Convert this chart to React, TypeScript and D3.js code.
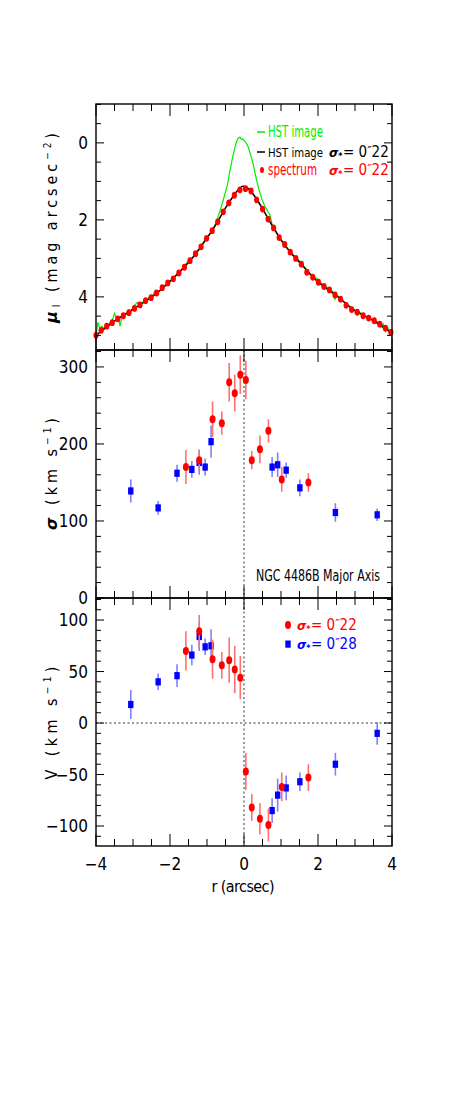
import React from 'react';
import * as d3 from 'd3';

const FONT = "'Liberation Sans Narrow', 'DejaVu Sans Condensed', sans-serif";
const GREEK = "'DejaVu Sans', sans-serif";

// top panel: major-axis surface brightness, [r arcsec, mu_I]
const hstRaw: [number, number][] = [
  [-4.0, 5.02], [-3.95, 4.66], [-3.9, 4.82], [-3.84, 4.76], [-3.78, 4.83], [-3.72, 4.74],
  [-3.66, 4.72], [-3.6, 4.64], [-3.55, 4.58], [-3.5, 4.43], [-3.45, 4.55], [-3.4, 4.52],
  [-3.35, 4.76], [-3.3, 4.52], [-3.24, 4.47], [-3.18, 4.46], [-3.12, 4.34], [-3.06, 4.42],
  [-3.0, 4.25], [-2.94, 4.2], [-2.88, 4.14], [-2.82, 4.24], [-2.76, 4.16], [-2.7, 4.1],
  [-2.62, 4.06], [-2.55, 4.0], [-2.48, 3.98], [-2.4, 3.84], [-2.34, 3.9], [-2.26, 3.82],
  [-2.18, 3.7], [-2.1, 3.7], [-2.02, 3.6], [-1.94, 3.54], [-1.86, 3.46], [-1.78, 3.38],
  [-1.7, 3.3], [-1.62, 3.22], [-1.54, 3.1], [-1.46, 3.0], [-1.38, 2.97], [-1.3, 2.86],
  [-1.22, 2.78], [-1.14, 2.65], [-1.06, 2.52], [-0.98, 2.44], [-0.92, 2.38], [-0.86, 2.28],
  [-0.8, 2.15], [-0.74, 2.02], [-0.68, 1.86], [-0.6, 1.62], [-0.52, 1.34], [-0.45, 1.1],
  [-0.38, 0.72], [-0.3, 0.34], [-0.22, 0.02], [-0.16, -0.12], [-0.11, -0.15], [-0.07, -0.09],
  [-0.03, -0.1], [0.02, -0.04], [0.07, 0.02], [0.12, 0.12], [0.18, 0.32], [0.25, 0.55],
  [0.32, 0.88], [0.4, 1.2], [0.48, 1.45], [0.56, 1.64], [0.64, 1.78], [0.7, 1.86],
  [0.76, 2.12], [0.84, 2.26], [0.92, 2.4], [1.0, 2.52], [1.1, 2.64], [1.2, 2.76],
  [1.3, 2.88], [1.4, 2.98], [1.5, 3.06], [1.6, 3.18], [1.7, 3.3], [1.8, 3.42],
  [1.9, 3.48], [2.0, 3.54], [2.1, 3.66], [2.2, 3.72], [2.3, 3.8], [2.4, 3.86],
  [2.46, 4.06], [2.52, 3.96], [2.6, 4.02], [2.7, 4.12], [2.8, 4.22], [2.9, 4.26],
  [3.0, 4.36], [3.1, 4.38], [3.2, 4.46], [3.3, 4.52], [3.4, 4.56], [3.5, 4.62],
  [3.6, 4.64], [3.7, 4.8], [3.76, 4.7], [3.82, 4.9], [3.88, 4.78], [3.94, 4.96], [4.0, 5.04],
];

const hstSmooth: [number, number][] = [
  [-4, 5.0], [-3.5, 4.63], [-3, 4.32], [-2.5, 4.01], [-2, 3.6], [-1.5, 3.11], [-1.25, 2.81],
  [-1, 2.47], [-0.75, 2.11], [-0.5, 1.69], [-0.3, 1.4], [-0.15, 1.21], [-0.05, 1.13],
  [0.05, 1.14], [0.15, 1.22], [0.3, 1.4], [0.5, 1.71], [0.75, 2.13], [1, 2.52], [1.25, 2.84],
  [1.5, 3.1], [2, 3.61], [2.5, 3.97], [3, 4.36], [3.5, 4.62], [4, 4.94],
];

const spectrum: [number, number][] = [
  [-4.0, 5.0], [-3.86, 4.87], [-3.71, 4.76], [-3.56, 4.67], [-3.41, 4.57], [-3.26, 4.49],
  [-3.11, 4.41], [-2.96, 4.3], [-2.81, 4.21], [-2.66, 4.1], [-2.51, 4.02], [-2.36, 3.9],
  [-2.21, 3.76], [-2.06, 3.64], [-1.91, 3.53], [-1.76, 3.38], [-1.61, 3.23], [-1.46, 3.06],
  [-1.31, 2.88], [-1.16, 2.7], [-1.01, 2.48], [-0.86, 2.28], [-0.71, 2.05], [-0.56, 1.79],
  [-0.41, 1.56], [-0.26, 1.36], [-0.11, 1.22], [0.04, 1.19], [0.19, 1.25], [0.34, 1.48],
  [0.5, 1.72], [0.65, 1.98], [0.8, 2.21], [0.95, 2.46], [1.1, 2.64], [1.25, 2.84],
  [1.4, 3.0], [1.55, 3.15], [1.7, 3.36], [1.86, 3.49], [2.01, 3.62], [2.16, 3.73],
  [2.31, 3.82], [2.46, 3.95], [2.61, 4.06], [2.76, 4.22], [2.91, 4.33], [3.06, 4.4],
  [3.22, 4.49], [3.37, 4.55], [3.52, 4.62], [3.67, 4.71], [3.82, 4.81], [3.97, 4.92],
];

// kinematics: red = sigma* 0"22, blue = sigma* 0"28
const redR = [-1.57, -1.21, -0.85, -0.6, -0.4, -0.25, -0.1, 0.05, 0.21, 0.43, 0.66, 1.02, 1.74];
const blueR = [-3.06, -2.32, -1.81, -1.41, -1.21, -1.05, -0.89, 0.76, 0.91, 1.14, 1.51, 2.47, 3.6];

const sigRed = [170, 179, 232, 227, 280, 266, 290, 283, 179, 193, 217, 154, 150];
const sigRedErr = [22, 14, 23, 15, 25, 24, 25, 25, 12, 18, 15, 16, 12];
const sigBlue = [139, 117, 162, 167, 176, 170, 203, 170, 173, 166, 143, 111, 108];
const sigBlueErr = [15, 9, 11, 11, 16, 11, 21, 13, 16, 10, 11, 12, 8];

const velRed = [70, 89, 62, 56, 61, 52, 44, -47, -82, -93, -99, -62, -53];
const velRedErr = [19, 16, 19, 13, 22, 23, 21, 18, 13, 15, 16, 14, 13];
const velBlue = [18, 40, 46, 66, 84, 74, 75, -85, -70, -63, -57, -40, -10];
const velBlueErr = [14, 8, 11, 10, 14, 8, 16, 12, 16, 12, 9, 11, 11];

const xTickLabels = ['−4', '−2', '0', '2', '4'];
const muTicks = [0, 2, 4];
const sigTicks = [0, 100, 200, 300];
const velTicks = [-100, -50, 0, 50, 100];

const X0 = 96, X1 = 392;
const T1 = 104, T2 = 350, T3 = 598, B3 = 846;

const x = d3.scaleLinear().domain([-4, 4]).range([X0, X1]);
const yMu = d3.scaleLinear().domain([-1.01, 5.38]).range([T1, T2]);
const ySig = d3.scaleLinear().domain([0, 322]).range([T3, T2]);
const yVel = d3.scaleLinear().domain([-119.4, 121.4]).range([B3, T3]);

const RED = '#ff0000', BLUE = '#0000ff', GREEN = '#00ee00';
const RED_ERR = '#ff7070', BLUE_ERR = '#8080ff';

function Frame({ top, bottom, y, minor, major }: any) {
  const xMinor = d3.range(-4, 4.01, 0.5);
  const [lo, hi] = y.domain();
  const yMinor = d3.range(Math.ceil(lo / minor) * minor, hi + 1e-6, minor);
  const isMajor = (v: number, step: number) => Math.abs(v / step - Math.round(v / step)) < 1e-6;
  return (
    <g stroke="#000" fill="none">
      {xMinor.map((v) => {
        const L = isMajor(v, 2) ? 12 : 7;
        return (
          <g key={'x' + v}>
            <line x1={x(v)} x2={x(v)} y1={top} y2={top + L} strokeWidth={1} />
            <line x1={x(v)} x2={x(v)} y1={bottom} y2={bottom - L} strokeWidth={1} />
          </g>
        );
      })}
      {yMinor.map((v) => {
        const L = isMajor(v, major) ? 8 : 5;
        return (
          <g key={'y' + v}>
            <line x1={X0} x2={X0 + L} y1={y(v)} y2={y(v)} strokeWidth={1} />
            <line x1={X1} x2={X1 - L} y1={y(v)} y2={y(v)} strokeWidth={1} />
          </g>
        );
      })}
      <rect x={X0} y={top} width={X1 - X0} height={bottom - top} strokeWidth={1.4} />
    </g>
  );
}

function Points({ rs, vals, errs, y, kind }: any) {
  const col = kind === 'red' ? RED : BLUE;
  const ecol = kind === 'red' ? RED_ERR : BLUE_ERR;
  return (
    <g>
      {rs.map((r: number, i: number) => (
        <line key={'e' + i} x1={x(r)} x2={x(r)} y1={y(vals[i] - errs[i])} y2={y(vals[i] + errs[i])}
          stroke={ecol} strokeWidth={1.6} />
      ))}
      {rs.map((r: number, i: number) =>
        kind === 'red' ? (
          <ellipse key={'p' + i} cx={x(r)} cy={y(vals[i])} rx={3} ry={4} fill={col} />
        ) : (
          <rect key={'p' + i} x={x(r) - 2.7} y={y(vals[i]) - 3.6} width={5.4} height={7.2} fill={col} />
        )
      )}
    </g>
  );
}

// "sigma_* = 0''NN" legend label
function Sigma({ x0, y0, color, val }: any) {
  return (
    <text x={x0} y={y0} fill={color} fontFamily={FONT} fontSize={15}>
      <tspan fontFamily={GREEK} fontWeight="bold" fontStyle="italic" fontSize={12}>σ</tspan>
      <tspan fontFamily={GREEK} fontWeight="bold" fontSize={8} dy={2}>*</tspan>
      <tspan x={x0 + 14} dy={-2}>= 0</tspan>
      <tspan fontSize={13} dy={-2}>″</tspan>
      <tspan dy={2}>{val}</tspan>
    </text>
  );
}

export default function App() {
  const lineGen = d3.line<[number, number]>().x((d) => x(d[0])).y((d) => yMu(d[1]));
  const smoothGen = d3.line<[number, number]>().x((d) => x(d[0])).y((d) => yMu(d[1])).curve(d3.curveCatmullRom);

  return (
    <svg width={450} height={1100} style={{ position: 'absolute', left: 0, top: 0, background: '#fff' }}>
      {/* top panel */}
      <path d={lineGen(hstRaw) || ''} fill="none" stroke={GREEN} strokeWidth={1.2} />
      <path d={smoothGen(hstSmooth) || ''} fill="none" stroke="#000" strokeWidth={1.5} />
      {spectrum.map((d, i) => (
        <ellipse key={i} cx={x(d[0])} cy={yMu(d[1])} rx={2.6} ry={3.4} fill={RED} />
      ))}
      <Frame top={T1} bottom={T2} y={yMu} minor={0.5} major={2} />
      {muTicks.map((v) => (
        <text key={v} x={88} y={yMu(v) + 6} textAnchor="end" fontFamily={FONT} fontSize={17}>{v}</text>
      ))}

      <line x1={257} x2={265} y1={132} y2={132} stroke={GREEN} strokeWidth={1.5} />
      <text x={268} y={137} fill={GREEN} fontFamily={FONT} fontSize={15} textLength={55} lengthAdjust="spacingAndGlyphs">HST image</text>
      <line x1={257} x2={265} y1={152} y2={152} stroke="#000" strokeWidth={1.5} />
      <text x={268} y={157} fill="#000" fontFamily={FONT} fontSize={13} textLength={55} lengthAdjust="spacingAndGlyphs">HST image</text>
      <Sigma x0={329} y0={157} color="#000" val="22" />
      <ellipse cx={262} cy={170} rx={2} ry={3} fill={RED} />
      <text x={268} y={175} fill={RED} fontFamily={FONT} fontSize={15} textLength={49} lengthAdjust="spacingAndGlyphs">spectrum</text>
      <Sigma x0={329} y0={175} color={RED} val="22" />

      {/* middle panel */}
      <line x1={x(0)} x2={x(0)} y1={T2} y2={T3} stroke="#777" strokeWidth={1.5} strokeDasharray="2 2.5" />
      <Points rs={blueR} vals={sigBlue} errs={sigBlueErr} y={ySig} kind="blue" />
      <Points rs={redR} vals={sigRed} errs={sigRedErr} y={ySig} kind="red" />
      <Frame top={T2} bottom={T3} y={ySig} minor={20} major={100} />
      {sigTicks.map((v) => (
        <text key={v} x={88} y={ySig(v) + 6} textAnchor="end" fontFamily={FONT} fontSize={17}>{v}</text>
      ))}
      <text x={256} y={581} fontFamily={FONT} fontSize={16} textLength={124} lengthAdjust="spacingAndGlyphs">NGC 4486B Major Axis</text>

      {/* bottom panel */}
      <line x1={x(0)} x2={x(0)} y1={T3} y2={B3} stroke="#777" strokeWidth={1.5} strokeDasharray="2 2.5" />
      <line x1={X0} x2={X1} y1={yVel(0)} y2={yVel(0)} stroke="#777" strokeWidth={1.5} strokeDasharray="2 2.5" />
      <Points rs={blueR} vals={velBlue} errs={velBlueErr} y={yVel} kind="blue" />
      <Points rs={redR} vals={velRed} errs={velRedErr} y={yVel} kind="red" />
      <Frame top={T3} bottom={B3} y={yVel} minor={10} major={50} />
      {velTicks.map((v) => (
        <text key={v} x={88} y={yVel(v) + 6} textAnchor="end" fontFamily={FONT} fontSize={17}>{v < 0 ? '−' + Math.abs(v) : v}</text>
      ))}
      <ellipse cx={288} cy={625} rx={3} ry={4} fill={RED} />
      <Sigma x0={297} y0={630} color={RED} val="22" />
      <rect x={285.3} y={640.5} width={5.4} height={7.2} fill={BLUE} />
      <Sigma x0={297} y0={649} color={BLUE} val="28" />

      {/* x axis */}
      {[-4, -2, 0, 2, 4].map((v, i) => (
        <text key={v} x={x(v)} y={870} textAnchor="middle" fontFamily={FONT} fontSize={17}>{xTickLabels[i]}</text>
      ))}
      <text x={243} y={892} textAnchor="middle" fontFamily={FONT} fontSize={16} textLength={63} lengthAdjust="spacing">r (arcsec)</text>

      {/* y axis titles */}
      <text transform="translate(57,228) rotate(-90)" textAnchor="middle" fontFamily={FONT} fontSize={16} textLength={190} lengthAdjust="spacing">
        <tspan fontFamily={GREEK} fontWeight="bold" fontStyle="italic">μ</tspan>
        <tspan fontSize={10} dy={3}>I</tspan>
        <tspan dy={-3}> (mag arcsec</tspan>
        <tspan fontSize={10} dy={-6}>−2</tspan>
        <tspan dy={6}>)</tspan>
      </text>
      <text transform="translate(57,474) rotate(-90)" textAnchor="middle" fontFamily={FONT} fontSize={16} textLength={112} lengthAdjust="spacing">
        <tspan fontFamily={GREEK} fontWeight="bold" fontStyle="italic">σ</tspan>
        <tspan> (km s</tspan>
        <tspan fontSize={10} dy={-6}>−1</tspan>
        <tspan dy={6}>)</tspan>
      </text>
      <text transform="translate(57,723) rotate(-90)" textAnchor="middle" fontFamily={FONT} fontSize={16} textLength={113} lengthAdjust="spacing">
        <tspan>V (km s</tspan>
        <tspan fontSize={10} dy={-6}>−1</tspan>
        <tspan dy={6}>)</tspan>
      </text>
    </svg>
  );
}
